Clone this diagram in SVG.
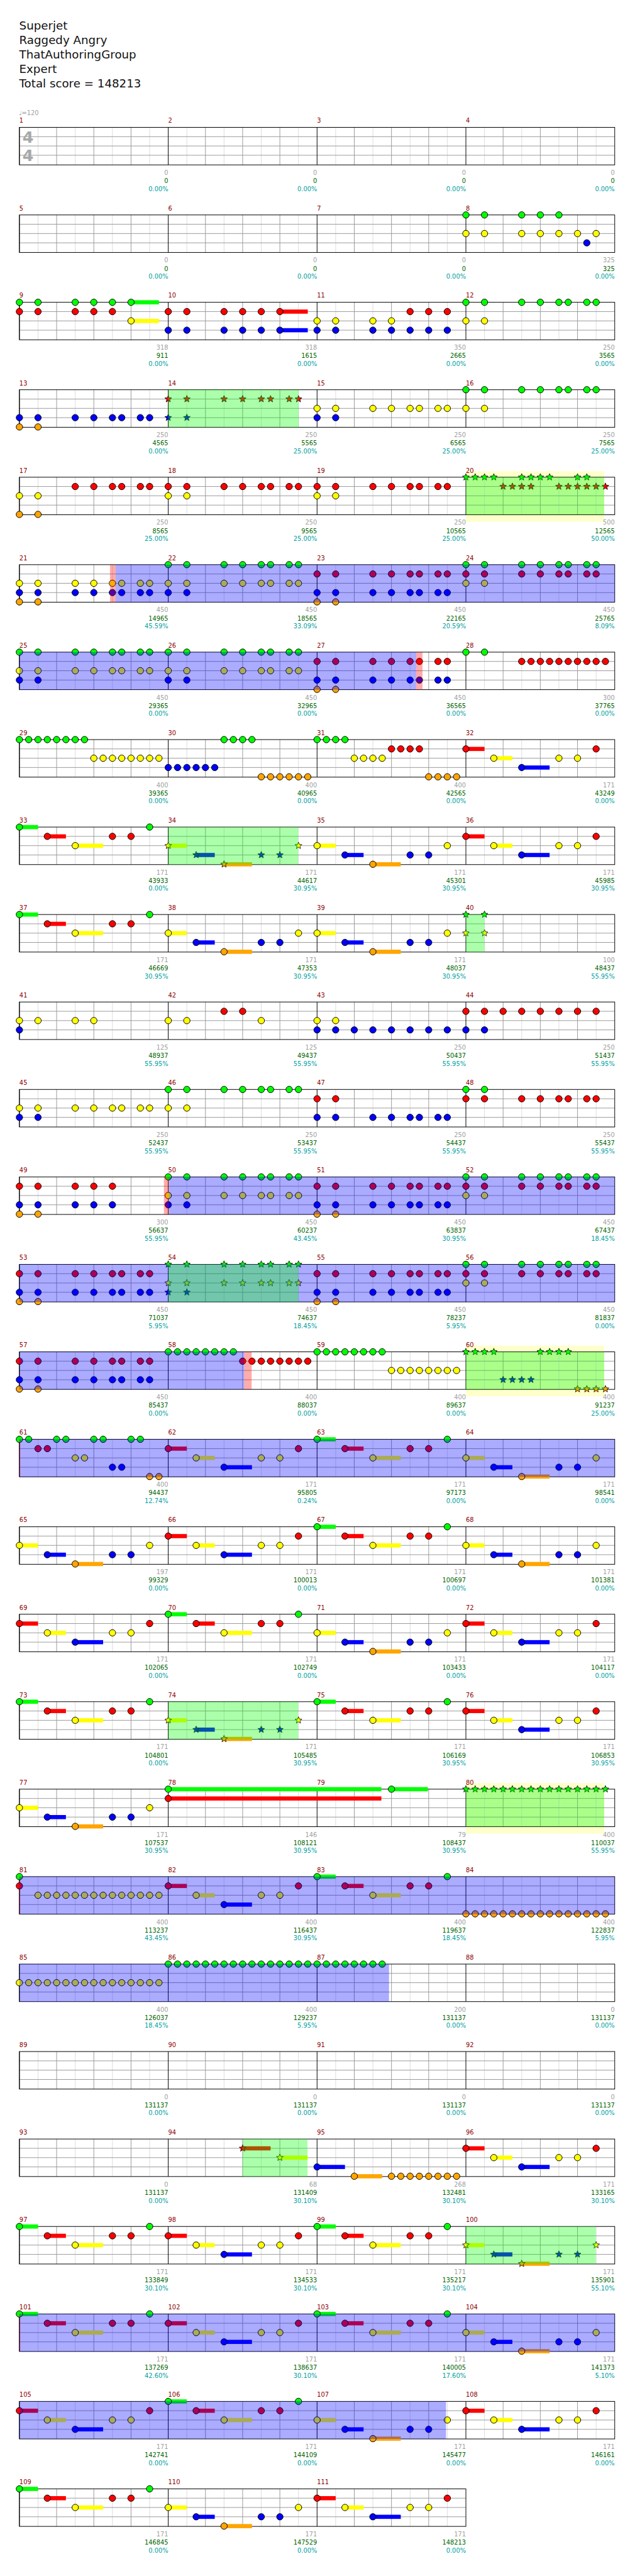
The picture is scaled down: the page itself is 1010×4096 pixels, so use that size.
<svg xmlns="http://www.w3.org/2000/svg" width="1010" height="4096" viewBox="0 0 1010 4096">
<style>
text{font-family:"DejaVu Sans",sans-serif}
.ttl{font-size:18.5px;fill:#111}
.n{font-size:10px;fill:#8b0000}
.lb{font-size:10px;text-anchor:end}
.a{fill:#a0a0a0}.b{fill:#006400}.c{fill:#00a0a0}
.zg{fill:#00ff00}.zr{fill:#ff0000}.zy{fill:#ffff00}.zb{fill:#0000ff}.zo{fill:#ffa500}
.sp{fill:#00ff00;fill-opacity:.33}
.so{fill:#0000ff;fill-opacity:.33}
.rb{fill:#ff0000;fill-opacity:.33}
.py{fill:#ffffcc}
</style>
<defs>
<g id="M">
<path d="M30 0V60.5M90 0V60.5M150 0V60.5M210 0V60.5" stroke="#dcdcdc" fill="none"/>
<path d="M0 15H240M0 30H240M0 45H240M60 0V60.5M120 0V60.5M180 0V60.5" stroke="#9a9a9a" fill="none"/>
<path d="M0 0V60.5" stroke="#000" fill="none"/>
</g>
<g id="S4"><use href="#M"/><use href="#M" x="240"/><use href="#M" x="480"/><use href="#M" x="720"/><rect width="960" height="60.5" fill="none" stroke="#000"/></g>
<g id="S3"><use href="#M"/><use href="#M" x="240"/><use href="#M" x="480"/><rect width="720" height="60.5" fill="none" stroke="#000"/></g>
<circle id="G" r="5.2" cy="0" fill="#00ff00" stroke="#000"/>
<circle id="R" r="5.2" cy="15" fill="#ff0000" stroke="#000"/>
<circle id="Y" r="5.2" cy="30" fill="#ffff00" stroke="#000"/>
<circle id="B" r="5.2" cy="45" fill="#0000ff" stroke="#000"/>
<circle id="O" r="5.2" cy="60" fill="#ffa500" stroke="#000"/>
<path id="st" d="M0-5.8L1.5-2.1L5.5-1.8L2.4.8L3.4 4.7L0 2.5L-3.4 4.7L-2.4.8L-5.5-1.8L-1.5-2.1Z" stroke="#000" stroke-width=".8"/>
<use id="sG" href="#st" y="0" fill="#00ff00"/>
<use id="sR" href="#st" y="15" fill="#ff0000"/>
<use id="sY" href="#st" y="30" fill="#ffff00"/>
<use id="sB" href="#st" y="45" fill="#0000ff"/>
<use id="sO" href="#st" y="60" fill="#ffa500"/>
<g id="pA"><rect class="zr" x="0" y="11.7" width="30" height="6.7"/><rect class="zy" x="45" y="26.7" width="30" height="6.7"/><rect class="zb" x="90" y="41.7" width="45" height="6.7"/><use href="#R"/><use href="#Y" x="45"/><use href="#B" x="90"/><use href="#Y" x="150"/><use href="#Y" x="180"/><use href="#R" x="210"/></g>
<g id="pB"><rect class="zg" x="0" y="-3.3" width="30" height="6.7"/><rect class="zr" x="45" y="11.7" width="30" height="6.7"/><rect class="zy" x="90" y="26.7" width="45" height="6.7"/><use href="#G"/><use href="#R" x="45"/><use href="#Y" x="90"/><use href="#R" x="150"/><use href="#R" x="180"/><use href="#G" x="210"/></g>
<g id="pC"><rect class="zy" x="0" y="26.7" width="30" height="6.7"/><rect class="zb" x="45" y="41.7" width="30" height="6.7"/><rect class="zo" x="90" y="56.7" width="45" height="6.7"/><use href="#Y"/><use href="#B" x="45"/><use href="#O" x="90"/><use href="#B" x="150"/><use href="#B" x="180"/><use href="#Y" x="210"/></g>
<g id="pCs"><rect class="zy" x="0" y="26.7" width="30" height="6.7"/><rect class="zb" x="45" y="41.7" width="30" height="6.7"/><rect class="zo" x="90" y="56.7" width="45" height="6.7"/><use href="#sY"/><use href="#sB" x="45"/><use href="#sO" x="90"/><use href="#sB" x="150"/><use href="#sB" x="180"/><use href="#sY" x="210"/><rect class="sp" x="0" y="0" width="209.5" height="60.5"/></g>
</defs>
<rect width="1010" height="4096" fill="#fff"/>
<g transform="scale(0.98633)">
<g id="title">
<text class="ttl" x="31" y="48">Superjet</text>
<text class="ttl" x="31" y="71.2">Raggedy Angry</text>
<text class="ttl" x="31" y="94.4">ThatAuthoringGroup</text>
<text class="ttl" x="31" y="117.6">Expert</text>
<text class="ttl" x="31" y="140.7">Total score = 148213</text>
</g>

<g id="row1" transform="translate(31.3,205.3)">
<use href="#S4"/>
<text x="-1" y="-20" style="font-size:10px;fill:#a0a0a0">♩=120</text>
<text x="5" y="24.6" style="font-size:25.7px;font-weight:bold;fill:#a8a8a8">4</text>
<text x="5" y="54.6" style="font-size:25.7px;font-weight:bold;fill:#a8a8a8">4</text>
<text class="n" x="0" y="-7.3">1</text><text class="n" x="240" y="-7.3">2</text><text class="n" x="480" y="-7.3">3</text><text class="n" x="720" y="-7.3">4</text>
<g class="lb">
<text class="a" x="240" y="76.7">0</text><text class="b" x="240" y="90">0</text><text class="c" x="240" y="102.8">0.00%</text>
<text class="a" x="480" y="76.7">0</text><text class="b" x="480" y="90">0</text><text class="c" x="480" y="102.8">0.00%</text>
<text class="a" x="720" y="76.7">0</text><text class="b" x="720" y="90">0</text><text class="c" x="720" y="102.8">0.00%</text>
<text class="a" x="960" y="76.7">0</text><text class="b" x="960" y="90">0</text><text class="c" x="960" y="102.8">0.00%</text>
</g>
</g>

<g id="row2" transform="translate(31.3,346.5)">
<use href="#S4"/>
<text class="n" x="0" y="-7.3">5</text><text class="n" x="240" y="-7.3">6</text><text class="n" x="480" y="-7.3">7</text><text class="n" x="720" y="-7.3">8</text>
<use href="#G" x="720"/><use href="#G" x="750"/><use href="#G" x="810"/><use href="#G" x="840"/><use href="#G" x="870"/>
<use href="#Y" x="720"/><use href="#Y" x="750"/><use href="#Y" x="810"/><use href="#Y" x="840"/><use href="#Y" x="870"/><use href="#Y" x="900"/><use href="#Y" x="930"/>
<use href="#B" x="915"/>
<g class="lb">
<text class="a" x="240" y="76.7">0</text><text class="b" x="240" y="90">0</text><text class="c" x="240" y="102.8">0.00%</text>
<text class="a" x="480" y="76.7">0</text><text class="b" x="480" y="90">0</text><text class="c" x="480" y="102.8">0.00%</text>
<text class="a" x="720" y="76.7">0</text><text class="b" x="720" y="90">0</text><text class="c" x="720" y="102.8">0.00%</text>
<text class="a" x="960" y="76.7">325</text><text class="b" x="960" y="90">325</text><text class="c" x="960" y="102.8">0.00%</text>
</g>
</g>

<g id="row3" transform="translate(31.3,487.3)">
<use href="#S4"/>
<text class="n" x="0" y="-7.3">9</text><text class="n" x="240" y="-7.3">10</text><text class="n" x="480" y="-7.3">11</text><text class="n" x="720" y="-7.3">12</text>
<rect class="zg" x="180" y="-3.3" width="45" height="6.7"/><rect class="zy" x="180" y="26.7" width="45" height="6.7"/>
<rect class="zr" x="420" y="11.7" width="45" height="6.7"/><rect class="zb" x="420" y="41.7" width="45" height="6.7"/>
<use href="#G" x="0"/><use href="#G" x="30"/><use href="#G" x="90"/><use href="#G" x="120"/><use href="#G" x="150"/><use href="#G" x="180"/>
<use href="#G" x="720"/><use href="#G" x="750"/><use href="#G" x="810"/><use href="#G" x="840"/><use href="#G" x="870"/><use href="#G" x="885"/><use href="#G" x="915"/><use href="#G" x="930"/>
<use href="#R" x="0"/><use href="#R" x="30"/><use href="#R" x="90"/><use href="#R" x="120"/><use href="#R" x="150"/>
<use href="#R" x="240"/><use href="#R" x="270"/><use href="#R" x="330"/><use href="#R" x="360"/><use href="#R" x="390"/><use href="#R" x="420"/>
<use href="#R" x="630"/><use href="#R" x="660"/><use href="#R" x="690"/>
<use href="#Y" x="180"/><use href="#Y" x="480"/><use href="#Y" x="510"/><use href="#Y" x="570"/><use href="#Y" x="600"/><use href="#Y" x="720"/><use href="#Y" x="750"/>
<use href="#B" x="240"/><use href="#B" x="270"/><use href="#B" x="330"/><use href="#B" x="360"/><use href="#B" x="390"/><use href="#B" x="420"/>
<use href="#B" x="480"/><use href="#B" x="510"/><use href="#B" x="570"/><use href="#B" x="600"/><use href="#B" x="630"/><use href="#B" x="660"/><use href="#B" x="690"/>
<g class="lb">
<text class="a" x="240" y="76.7">318</text><text class="b" x="240" y="90">911</text><text class="c" x="240" y="102.8">0.00%</text>
<text class="a" x="480" y="76.7">318</text><text class="b" x="480" y="90">1615</text><text class="c" x="480" y="102.8">0.00%</text>
<text class="a" x="720" y="76.7">350</text><text class="b" x="720" y="90">2665</text><text class="c" x="720" y="102.8">0.00%</text>
<text class="a" x="960" y="76.7">250</text><text class="b" x="960" y="90">3565</text><text class="c" x="960" y="102.8">0.00%</text>
</g>
</g>

<g id="row4" transform="translate(31.3,628.3)">
<use href="#S4"/>
<text class="n" x="0" y="-7.3">13</text><text class="n" x="240" y="-7.3">14</text><text class="n" x="480" y="-7.3">15</text><text class="n" x="720" y="-7.3">16</text>
<use href="#B" x="0"/><use href="#B" x="30"/><use href="#B" x="90"/><use href="#B" x="120"/><use href="#B" x="150"/><use href="#B" x="165"/><use href="#B" x="195"/><use href="#B" x="210"/>
<use href="#O" x="0"/><use href="#O" x="30"/>
<use href="#sR" x="240"/><use href="#sR" x="270"/><use href="#sR" x="330"/><use href="#sR" x="360"/><use href="#sR" x="390"/><use href="#sR" x="405"/><use href="#sR" x="435"/><use href="#sR" x="450"/>
<use href="#sB" x="240"/><use href="#sB" x="270"/>
<use href="#Y" x="480"/><use href="#B" x="480"/><use href="#Y" x="510"/><use href="#B" x="510"/>
<use href="#Y" x="570"/><use href="#Y" x="600"/><use href="#Y" x="630"/><use href="#Y" x="645"/><use href="#Y" x="675"/><use href="#Y" x="690"/>
<use href="#G" x="720"/><use href="#G" x="750"/><use href="#G" x="810"/><use href="#G" x="840"/><use href="#G" x="870"/><use href="#G" x="885"/><use href="#G" x="915"/><use href="#G" x="930"/>
<use href="#Y" x="720"/><use href="#Y" x="750"/>
<rect class="sp" x="240" y="0" width="210.4" height="60.5"/>
<g class="lb">
<text class="a" x="240" y="76.7">250</text><text class="b" x="240" y="90">4565</text><text class="c" x="240" y="102.8">0.00%</text>
<text class="a" x="480" y="76.7">250</text><text class="b" x="480" y="90">5565</text><text class="c" x="480" y="102.8">25.00%</text>
<text class="a" x="720" y="76.7">250</text><text class="b" x="720" y="90">6565</text><text class="c" x="720" y="102.8">25.00%</text>
<text class="a" x="960" y="76.7">250</text><text class="b" x="960" y="90">7565</text><text class="c" x="960" y="102.8">25.00%</text>
</g>
</g>

<g id="row5" transform="translate(31.3,769.3)">
<rect class="py" x="720" y="-10" width="223" height="81.7"/>
<use href="#S4"/>
<text class="n" x="0" y="-7.3">17</text><text class="n" x="240" y="-7.3">18</text><text class="n" x="480" y="-7.3">19</text><text class="n" x="720" y="-7.3">20</text>
<use href="#Y" x="0"/><use href="#Y" x="30"/><use href="#O" x="0"/><use href="#O" x="30"/>
<use href="#R" x="90"/><use href="#R" x="120"/><use href="#R" x="150"/><use href="#R" x="165"/><use href="#R" x="195"/><use href="#R" x="210"/>
<use href="#R" x="240"/><use href="#R" x="270"/><use href="#R" x="330"/><use href="#R" x="360"/><use href="#R" x="390"/><use href="#R" x="405"/><use href="#R" x="435"/><use href="#R" x="450"/>
<use href="#Y" x="240"/><use href="#Y" x="270"/>
<use href="#R" x="480"/><use href="#R" x="510"/><use href="#R" x="570"/><use href="#R" x="600"/><use href="#R" x="630"/><use href="#R" x="645"/><use href="#R" x="675"/><use href="#R" x="690"/>
<use href="#Y" x="480"/><use href="#Y" x="510"/>
<use href="#sG" x="720"/><use href="#sG" x="735"/><use href="#sG" x="750"/><use href="#sG" x="765"/><use href="#sG" x="810"/><use href="#sG" x="825"/><use href="#sG" x="840"/><use href="#sG" x="855"/><use href="#sG" x="900"/><use href="#sG" x="915"/>
<use href="#sR" x="780"/><use href="#sR" x="795"/><use href="#sR" x="810"/><use href="#sR" x="825"/><use href="#sR" x="870"/><use href="#sR" x="885"/><use href="#sR" x="900"/><use href="#sR" x="915"/><use href="#sR" x="930"/><use href="#sR" x="945"/>
<rect class="sp" x="720" y="0" width="223" height="60.5"/>
<g class="lb">
<text class="a" x="240" y="76.7">250</text><text class="b" x="240" y="90">8565</text><text class="c" x="240" y="102.8">25.00%</text>
<text class="a" x="480" y="76.7">250</text><text class="b" x="480" y="90">9565</text><text class="c" x="480" y="102.8">25.00%</text>
<text class="a" x="720" y="76.7">250</text><text class="b" x="720" y="90">10565</text><text class="c" x="720" y="102.8">25.00%</text>
<text class="a" x="960" y="76.7">500</text><text class="b" x="960" y="90">12565</text><text class="c" x="960" y="102.8">50.00%</text>
</g>
</g>

<g id="row6" transform="translate(31.3,910.3)">
<use href="#S4"/>
<text class="n" x="0" y="-7.3">21</text><text class="n" x="240" y="-7.3">22</text><text class="n" x="480" y="-7.3">23</text><text class="n" x="720" y="-7.3">24</text>
<use href="#Y" x="0"/><use href="#Y" x="30"/><use href="#Y" x="90"/><use href="#Y" x="120"/><use href="#Y" x="150"/><use href="#Y" x="165"/><use href="#Y" x="195"/><use href="#Y" x="210"/><use href="#Y" x="240"/><use href="#Y" x="270"/><use href="#Y" x="330"/><use href="#Y" x="360"/><use href="#Y" x="390"/><use href="#Y" x="405"/><use href="#Y" x="435"/><use href="#Y" x="450"/><use href="#Y" x="720"/><use href="#Y" x="750"/>
<use href="#B" x="0"/><use href="#B" x="30"/><use href="#B" x="90"/><use href="#B" x="120"/><use href="#B" x="150"/><use href="#B" x="165"/><use href="#B" x="195"/><use href="#B" x="210"/><use href="#B" x="240"/><use href="#B" x="270"/><use href="#B" x="480"/><use href="#B" x="510"/><use href="#B" x="570"/><use href="#B" x="600"/><use href="#B" x="630"/><use href="#B" x="645"/><use href="#B" x="675"/><use href="#B" x="690"/>
<use href="#O" x="0"/><use href="#O" x="30"/><use href="#O" x="480"/><use href="#O" x="510"/>
<use href="#G" x="240"/><use href="#G" x="270"/><use href="#G" x="330"/><use href="#G" x="360"/><use href="#G" x="390"/><use href="#G" x="405"/><use href="#G" x="435"/><use href="#G" x="450"/><use href="#G" x="720"/><use href="#G" x="750"/><use href="#G" x="810"/><use href="#G" x="840"/><use href="#G" x="870"/><use href="#G" x="885"/><use href="#G" x="915"/><use href="#G" x="930"/>
<use href="#R" x="480"/><use href="#R" x="510"/><use href="#R" x="570"/><use href="#R" x="600"/><use href="#R" x="630"/><use href="#R" x="645"/><use href="#R" x="675"/><use href="#R" x="690"/><use href="#R" x="720"/><use href="#R" x="750"/><use href="#R" x="810"/><use href="#R" x="840"/><use href="#R" x="870"/><use href="#R" x="885"/><use href="#R" x="915"/><use href="#R" x="930"/>
<rect class="rb" x="146" y="0" width="9" height="60.5"/>
<rect class="so" x="155" y="0" width="805" height="60.5"/>
<g class="lb">
<text class="a" x="240" y="76.7">450</text><text class="b" x="240" y="90">14965</text><text class="c" x="240" y="102.8">45.59%</text>
<text class="a" x="480" y="76.7">450</text><text class="b" x="480" y="90">18565</text><text class="c" x="480" y="102.8">33.09%</text>
<text class="a" x="720" y="76.7">450</text><text class="b" x="720" y="90">22165</text><text class="c" x="720" y="102.8">20.59%</text>
<text class="a" x="960" y="76.7">450</text><text class="b" x="960" y="90">25765</text><text class="c" x="960" y="102.8">8.09%</text>
</g>
</g>

<g id="row7" transform="translate(31.3,1051.3)">
<use href="#S4"/>
<text class="n" x="0" y="-7.3">25</text><text class="n" x="240" y="-7.3">26</text><text class="n" x="480" y="-7.3">27</text><text class="n" x="720" y="-7.3">28</text>
<use href="#G" x="0"/><use href="#G" x="30"/><use href="#G" x="90"/><use href="#G" x="120"/><use href="#G" x="150"/><use href="#G" x="165"/><use href="#G" x="195"/><use href="#G" x="210"/>
<use href="#Y" x="0"/><use href="#Y" x="30"/><use href="#Y" x="90"/><use href="#Y" x="120"/><use href="#Y" x="150"/><use href="#Y" x="165"/><use href="#Y" x="195"/><use href="#Y" x="210"/>
<use href="#B" x="0"/><use href="#B" x="30"/>
<use href="#G" x="240"/><use href="#G" x="270"/><use href="#G" x="330"/><use href="#G" x="360"/><use href="#G" x="390"/><use href="#G" x="405"/><use href="#G" x="435"/><use href="#G" x="450"/>
<use href="#Y" x="240"/><use href="#Y" x="270"/><use href="#Y" x="330"/><use href="#Y" x="360"/><use href="#Y" x="390"/><use href="#Y" x="405"/><use href="#Y" x="435"/><use href="#Y" x="450"/>
<use href="#B" x="240"/><use href="#B" x="270"/>
<use href="#R" x="480"/><use href="#R" x="510"/><use href="#R" x="570"/><use href="#R" x="600"/><use href="#R" x="630"/><use href="#R" x="645"/><use href="#R" x="675"/><use href="#R" x="690"/>
<use href="#B" x="480"/><use href="#B" x="510"/><use href="#B" x="570"/><use href="#B" x="600"/><use href="#B" x="630"/><use href="#B" x="645"/><use href="#B" x="675"/><use href="#B" x="690"/>
<use href="#O" x="480"/><use href="#O" x="510"/>
<use href="#G" x="720"/><use href="#G" x="750"/>
<use href="#R" x="810"/><use href="#R" x="825"/><use href="#R" x="840"/><use href="#R" x="855"/><use href="#R" x="870"/><use href="#R" x="885"/><use href="#R" x="900"/><use href="#R" x="915"/><use href="#R" x="930"/><use href="#R" x="945"/>
<rect class="so" x="0" y="0" width="640" height="60.5"/>
<rect class="rb" x="640" y="0" width="10" height="60.5"/>
<g class="lb">
<text class="a" x="240" y="76.7">450</text><text class="b" x="240" y="90">29365</text><text class="c" x="240" y="102.8">0.00%</text>
<text class="a" x="480" y="76.7">450</text><text class="b" x="480" y="90">32965</text><text class="c" x="480" y="102.8">0.00%</text>
<text class="a" x="720" y="76.7">450</text><text class="b" x="720" y="90">36565</text><text class="c" x="720" y="102.8">0.00%</text>
<text class="a" x="960" y="76.7">300</text><text class="b" x="960" y="90">37765</text><text class="c" x="960" y="102.8">0.00%</text>
</g>
</g>

<g id="row8" transform="translate(31.3,1192.3)">
<use href="#S4"/>
<text class="n" x="0" y="-7.3">29</text><text class="n" x="240" y="-7.3">30</text><text class="n" x="480" y="-7.3">31</text><text class="n" x="720" y="-7.3">32</text>
<use href="#G" x="0"/><use href="#G" x="15"/><use href="#G" x="30"/><use href="#G" x="45"/><use href="#G" x="60"/><use href="#G" x="75"/><use href="#G" x="90"/><use href="#G" x="105"/>
<use href="#Y" x="120"/><use href="#Y" x="135"/><use href="#Y" x="150"/><use href="#Y" x="165"/><use href="#Y" x="180"/><use href="#Y" x="195"/><use href="#Y" x="210"/><use href="#Y" x="225"/>
<use href="#B" x="240"/><use href="#B" x="255"/><use href="#B" x="270"/><use href="#B" x="285"/><use href="#B" x="300"/><use href="#B" x="315"/>
<use href="#G" x="330"/><use href="#G" x="345"/><use href="#G" x="360"/><use href="#G" x="375"/>
<use href="#O" x="390"/><use href="#O" x="405"/><use href="#O" x="420"/><use href="#O" x="435"/><use href="#O" x="450"/><use href="#O" x="465"/>
<use href="#G" x="480"/><use href="#G" x="495"/><use href="#G" x="510"/><use href="#G" x="525"/>
<use href="#Y" x="540"/><use href="#Y" x="555"/><use href="#Y" x="570"/><use href="#Y" x="585"/>
<use href="#R" x="600"/><use href="#R" x="615"/><use href="#R" x="630"/><use href="#R" x="645"/>
<use href="#O" x="660"/><use href="#O" x="675"/><use href="#O" x="690"/><use href="#O" x="705"/>
<use href="#pA" x="720"/>
<g class="lb">
<text class="a" x="240" y="76.7">400</text><text class="b" x="240" y="90">39365</text><text class="c" x="240" y="102.8">0.00%</text>
<text class="a" x="480" y="76.7">400</text><text class="b" x="480" y="90">40965</text><text class="c" x="480" y="102.8">0.00%</text>
<text class="a" x="720" y="76.7">400</text><text class="b" x="720" y="90">42565</text><text class="c" x="720" y="102.8">0.00%</text>
<text class="a" x="960" y="76.7">171</text><text class="b" x="960" y="90">43249</text><text class="c" x="960" y="102.8">0.00%</text>
</g>
</g>

<g id="row9" transform="translate(31.3,1333.3)">
<use href="#S4"/>
<text class="n" x="0" y="-7.3">33</text><text class="n" x="240" y="-7.3">34</text><text class="n" x="480" y="-7.3">35</text><text class="n" x="720" y="-7.3">36</text>
<use href="#pB" x="0"/><use href="#pCs" x="240"/><use href="#pC" x="480"/><use href="#pA" x="720"/>
<g class="lb">
<text class="a" x="240" y="76.7">171</text><text class="b" x="240" y="90">43933</text><text class="c" x="240" y="102.8">0.00%</text>
<text class="a" x="480" y="76.7">171</text><text class="b" x="480" y="90">44617</text><text class="c" x="480" y="102.8">30.95%</text>
<text class="a" x="720" y="76.7">171</text><text class="b" x="720" y="90">45301</text><text class="c" x="720" y="102.8">30.95%</text>
<text class="a" x="960" y="76.7">171</text><text class="b" x="960" y="90">45985</text><text class="c" x="960" y="102.8">30.95%</text>
</g>
</g>

<g id="row10" transform="translate(31.3,1474.3)">
<use href="#S4"/>
<text class="n" x="0" y="-7.3">37</text><text class="n" x="240" y="-7.3">38</text><text class="n" x="480" y="-7.3">39</text><text class="n" x="720" y="-7.3">40</text>
<use href="#pB" x="0"/><use href="#pC" x="240"/><use href="#pC" x="480"/>
<use href="#sG" x="720"/><use href="#sY" x="720"/><use href="#sG" x="750"/><use href="#sY" x="750"/>
<rect class="sp" x="720" y="0" width="30" height="60.5"/>
<g class="lb">
<text class="a" x="240" y="76.7">171</text><text class="b" x="240" y="90">46669</text><text class="c" x="240" y="102.8">30.95%</text>
<text class="a" x="480" y="76.7">171</text><text class="b" x="480" y="90">47353</text><text class="c" x="480" y="102.8">30.95%</text>
<text class="a" x="720" y="76.7">171</text><text class="b" x="720" y="90">48037</text><text class="c" x="720" y="102.8">30.95%</text>
<text class="a" x="960" y="76.7">100</text><text class="b" x="960" y="90">48437</text><text class="c" x="960" y="102.8">55.95%</text>
</g>
</g>

<g id="row11" transform="translate(31.3,1615.3)">
<use href="#S4"/>
<text class="n" x="0" y="-7.3">41</text><text class="n" x="240" y="-7.3">42</text><text class="n" x="480" y="-7.3">43</text><text class="n" x="720" y="-7.3">44</text>
<use href="#Y" x="0"/><use href="#B" x="0"/><use href="#Y" x="30"/><use href="#Y" x="90"/><use href="#Y" x="120"/>
<use href="#Y" x="240"/><use href="#Y" x="270"/><use href="#R" x="330"/><use href="#R" x="360"/><use href="#Y" x="390"/>
<use href="#B" x="480"/><use href="#B" x="510"/><use href="#B" x="540"/><use href="#B" x="570"/><use href="#B" x="600"/><use href="#B" x="630"/><use href="#B" x="660"/><use href="#B" x="690"/><use href="#Y" x="480"/><use href="#Y" x="510"/>
<use href="#R" x="720"/><use href="#R" x="750"/><use href="#R" x="780"/><use href="#R" x="810"/><use href="#R" x="840"/><use href="#R" x="870"/><use href="#R" x="900"/><use href="#R" x="930"/><use href="#B" x="720"/><use href="#B" x="750"/>
<g class="lb">
<text class="a" x="240" y="76.7">125</text><text class="b" x="240" y="90">48937</text><text class="c" x="240" y="102.8">55.95%</text>
<text class="a" x="480" y="76.7">125</text><text class="b" x="480" y="90">49437</text><text class="c" x="480" y="102.8">55.95%</text>
<text class="a" x="720" y="76.7">250</text><text class="b" x="720" y="90">50437</text><text class="c" x="720" y="102.8">55.95%</text>
<text class="a" x="960" y="76.7">250</text><text class="b" x="960" y="90">51437</text><text class="c" x="960" y="102.8">55.95%</text>
</g>
</g>

<g id="row12" transform="translate(31.3,1756.3)">
<use href="#S4"/>
<text class="n" x="0" y="-7.3">45</text><text class="n" x="240" y="-7.3">46</text><text class="n" x="480" y="-7.3">47</text><text class="n" x="720" y="-7.3">48</text>
<use href="#Y" x="0"/><use href="#B" x="0"/><use href="#Y" x="30"/><use href="#B" x="30"/><use href="#Y" x="90"/><use href="#Y" x="120"/><use href="#Y" x="150"/><use href="#Y" x="165"/><use href="#Y" x="195"/><use href="#Y" x="210"/>
<use href="#G" x="240"/><use href="#G" x="270"/><use href="#G" x="330"/><use href="#G" x="360"/><use href="#G" x="390"/><use href="#G" x="405"/><use href="#G" x="435"/><use href="#G" x="450"/><use href="#Y" x="240"/><use href="#Y" x="270"/>
<use href="#B" x="480"/><use href="#B" x="510"/><use href="#B" x="570"/><use href="#B" x="600"/><use href="#B" x="630"/><use href="#B" x="645"/><use href="#B" x="675"/><use href="#B" x="690"/><use href="#R" x="480"/><use href="#R" x="510"/>
<use href="#R" x="720"/><use href="#R" x="750"/><use href="#R" x="810"/><use href="#R" x="840"/><use href="#R" x="870"/><use href="#R" x="885"/><use href="#R" x="915"/><use href="#R" x="930"/><use href="#G" x="720"/><use href="#G" x="750"/>
<g class="lb">
<text class="a" x="240" y="76.7">250</text><text class="b" x="240" y="90">52437</text><text class="c" x="240" y="102.8">55.95%</text>
<text class="a" x="480" y="76.7">250</text><text class="b" x="480" y="90">53437</text><text class="c" x="480" y="102.8">55.95%</text>
<text class="a" x="720" y="76.7">250</text><text class="b" x="720" y="90">54437</text><text class="c" x="720" y="102.8">55.95%</text>
<text class="a" x="960" y="76.7">250</text><text class="b" x="960" y="90">55437</text><text class="c" x="960" y="102.8">55.95%</text>
</g>
</g>

<g id="row13" transform="translate(31.3,1897.3)">
<use href="#S4"/>
<text class="n" x="0" y="-7.3">49</text><text class="n" x="240" y="-7.3">50</text><text class="n" x="480" y="-7.3">51</text><text class="n" x="720" y="-7.3">52</text>
<use href="#R" x="0"/><use href="#R" x="30"/><use href="#R" x="90"/><use href="#R" x="120"/><use href="#R" x="150"/>
<use href="#B" x="0"/><use href="#B" x="30"/><use href="#B" x="90"/><use href="#B" x="120"/><use href="#B" x="150"/><use href="#O" x="0"/><use href="#O" x="30"/>
<use href="#G" x="240"/><use href="#G" x="270"/><use href="#G" x="330"/><use href="#G" x="360"/><use href="#G" x="390"/><use href="#G" x="405"/><use href="#G" x="435"/><use href="#G" x="450"/>
<use href="#Y" x="240"/><use href="#Y" x="270"/><use href="#Y" x="330"/><use href="#Y" x="360"/><use href="#Y" x="390"/><use href="#Y" x="405"/><use href="#Y" x="435"/><use href="#Y" x="450"/><use href="#B" x="240"/><use href="#B" x="270"/>
<use href="#R" x="480"/><use href="#R" x="510"/><use href="#R" x="570"/><use href="#R" x="600"/><use href="#R" x="630"/><use href="#R" x="645"/><use href="#R" x="675"/><use href="#R" x="690"/>
<use href="#B" x="480"/><use href="#B" x="510"/><use href="#B" x="570"/><use href="#B" x="600"/><use href="#B" x="630"/><use href="#B" x="645"/><use href="#B" x="675"/><use href="#B" x="690"/><use href="#O" x="480"/><use href="#O" x="510"/>
<use href="#G" x="720"/><use href="#G" x="750"/><use href="#G" x="810"/><use href="#G" x="840"/><use href="#G" x="870"/><use href="#G" x="885"/><use href="#G" x="915"/><use href="#G" x="930"/>
<use href="#R" x="720"/><use href="#R" x="750"/><use href="#R" x="810"/><use href="#R" x="840"/><use href="#R" x="870"/><use href="#R" x="885"/><use href="#R" x="915"/><use href="#R" x="930"/><use href="#Y" x="720"/><use href="#Y" x="750"/>
<rect class="rb" x="233" y="0" width="8" height="60.5"/>
<rect class="so" x="241" y="0" width="719" height="60.5"/>
<g class="lb">
<text class="a" x="240" y="76.7">300</text><text class="b" x="240" y="90">56637</text><text class="c" x="240" y="102.8">55.95%</text>
<text class="a" x="480" y="76.7">450</text><text class="b" x="480" y="90">60237</text><text class="c" x="480" y="102.8">43.45%</text>
<text class="a" x="720" y="76.7">450</text><text class="b" x="720" y="90">63837</text><text class="c" x="720" y="102.8">30.95%</text>
<text class="a" x="960" y="76.7">450</text><text class="b" x="960" y="90">67437</text><text class="c" x="960" y="102.8">18.45%</text>
</g>
</g>

<g id="row14" transform="translate(31.3,2038.3)">
<use href="#S4"/>
<text class="n" x="0" y="-7.3">53</text><text class="n" x="240" y="-7.3">54</text><text class="n" x="480" y="-7.3">55</text><text class="n" x="720" y="-7.3">56</text>
<use href="#R" x="0"/><use href="#R" x="30"/><use href="#R" x="90"/><use href="#R" x="120"/><use href="#R" x="150"/><use href="#R" x="165"/><use href="#R" x="195"/><use href="#R" x="210"/>
<use href="#B" x="0"/><use href="#B" x="30"/><use href="#B" x="90"/><use href="#B" x="120"/><use href="#B" x="150"/><use href="#B" x="165"/><use href="#B" x="195"/><use href="#B" x="210"/><use href="#O" x="0"/><use href="#O" x="30"/>
<use href="#sG" x="240"/><use href="#sG" x="270"/><use href="#sG" x="330"/><use href="#sG" x="360"/><use href="#sG" x="390"/><use href="#sG" x="405"/><use href="#sG" x="435"/><use href="#sG" x="450"/>
<use href="#sY" x="240"/><use href="#sY" x="270"/><use href="#sY" x="330"/><use href="#sY" x="360"/><use href="#sY" x="390"/><use href="#sY" x="405"/><use href="#sY" x="435"/><use href="#sY" x="450"/><use href="#sB" x="240"/><use href="#sB" x="270"/>
<use href="#R" x="480"/><use href="#R" x="510"/><use href="#R" x="570"/><use href="#R" x="600"/><use href="#R" x="630"/><use href="#R" x="645"/><use href="#R" x="675"/><use href="#R" x="690"/>
<use href="#B" x="480"/><use href="#B" x="510"/><use href="#B" x="570"/><use href="#B" x="600"/><use href="#B" x="630"/><use href="#B" x="645"/><use href="#B" x="675"/><use href="#B" x="690"/><use href="#O" x="480"/><use href="#O" x="510"/>
<use href="#G" x="720"/><use href="#G" x="750"/><use href="#G" x="810"/><use href="#G" x="840"/><use href="#G" x="870"/><use href="#G" x="885"/><use href="#G" x="915"/><use href="#G" x="930"/>
<use href="#R" x="720"/><use href="#R" x="750"/><use href="#R" x="810"/><use href="#R" x="840"/><use href="#R" x="870"/><use href="#R" x="885"/><use href="#R" x="915"/><use href="#R" x="930"/><use href="#Y" x="720"/><use href="#Y" x="750"/>
<rect class="so" x="0" y="0" width="960" height="60.5"/>
<rect class="sp" x="240" y="0" width="210" height="60.5"/>
<g class="lb">
<text class="a" x="240" y="76.7">450</text><text class="b" x="240" y="90">71037</text><text class="c" x="240" y="102.8">5.95%</text>
<text class="a" x="480" y="76.7">450</text><text class="b" x="480" y="90">74637</text><text class="c" x="480" y="102.8">18.45%</text>
<text class="a" x="720" y="76.7">450</text><text class="b" x="720" y="90">78237</text><text class="c" x="720" y="102.8">5.95%</text>
<text class="a" x="960" y="76.7">450</text><text class="b" x="960" y="90">81837</text><text class="c" x="960" y="102.8">0.00%</text>
</g>
</g>

<g id="row15" transform="translate(31.3,2179.3)">
<rect class="py" x="720" y="-10" width="223" height="81.7"/>
<use href="#S4"/>
<text class="n" x="0" y="-7.3">57</text><text class="n" x="240" y="-7.3">58</text><text class="n" x="480" y="-7.3">59</text><text class="n" x="720" y="-7.3">60</text>
<use href="#R" x="0"/><use href="#R" x="30"/><use href="#R" x="90"/><use href="#R" x="120"/><use href="#R" x="150"/><use href="#R" x="165"/><use href="#R" x="195"/><use href="#R" x="210"/><use href="#R" x="360"/><use href="#R" x="375"/><use href="#R" x="390"/><use href="#R" x="405"/><use href="#R" x="420"/><use href="#R" x="435"/><use href="#R" x="450"/><use href="#R" x="465"/>
<use href="#B" x="0"/><use href="#B" x="30"/><use href="#B" x="90"/><use href="#B" x="120"/><use href="#B" x="150"/><use href="#B" x="165"/><use href="#B" x="195"/><use href="#B" x="210"/>
<use href="#O" x="0"/><use href="#O" x="30"/>
<use href="#G" x="240"/><use href="#G" x="255"/><use href="#G" x="270"/><use href="#G" x="285"/><use href="#G" x="300"/><use href="#G" x="315"/><use href="#G" x="330"/><use href="#G" x="345"/>
<use href="#G" x="480"/><use href="#G" x="495"/><use href="#G" x="510"/><use href="#G" x="525"/><use href="#G" x="540"/><use href="#G" x="555"/><use href="#G" x="570"/><use href="#G" x="585"/>
<use href="#Y" x="600"/><use href="#Y" x="615"/><use href="#Y" x="630"/><use href="#Y" x="645"/><use href="#Y" x="660"/><use href="#Y" x="675"/><use href="#Y" x="690"/><use href="#Y" x="705"/>
<use href="#sG" x="720"/><use href="#sG" x="735"/><use href="#sG" x="750"/><use href="#sG" x="765"/><use href="#sG" x="840"/><use href="#sG" x="855"/><use href="#sG" x="870"/><use href="#sG" x="885"/>
<use href="#sB" x="780"/><use href="#sB" x="795"/><use href="#sB" x="810"/><use href="#sB" x="825"/>
<use href="#sO" x="900"/><use href="#sO" x="915"/><use href="#sO" x="930"/><use href="#sO" x="945"/>
<rect class="so" x="0" y="0" width="362.7" height="60.5"/>
<rect class="rb" x="362.7" y="0" width="11.8" height="60.5"/>
<rect class="sp" x="720" y="0" width="223" height="60.5"/>
<g class="lb">
<text class="a" x="240" y="76.7">450</text><text class="b" x="240" y="90">85437</text><text class="c" x="240" y="102.8">0.00%</text>
<text class="a" x="480" y="76.7">400</text><text class="b" x="480" y="90">88037</text><text class="c" x="480" y="102.8">0.00%</text>
<text class="a" x="720" y="76.7">400</text><text class="b" x="720" y="90">89637</text><text class="c" x="720" y="102.8">0.00%</text>
<text class="a" x="960" y="76.7">400</text><text class="b" x="960" y="90">91237</text><text class="c" x="960" y="102.8">25.00%</text>
</g>
</g>

<g id="row16" transform="translate(31.3,2320.3)">
<use href="#S4"/>
<text class="n" x="0" y="-7.3">61</text><text class="n" x="240" y="-7.3">62</text><text class="n" x="480" y="-7.3">63</text><text class="n" x="720" y="-7.3">64</text>
<use href="#G" x="0"/><use href="#G" x="15"/><use href="#G" x="60"/><use href="#G" x="75"/><use href="#G" x="120"/><use href="#G" x="135"/><use href="#G" x="180"/><use href="#G" x="195"/>
<use href="#R" x="30"/><use href="#R" x="45"/><use href="#Y" x="90"/><use href="#Y" x="105"/><use href="#B" x="150"/><use href="#B" x="165"/><use href="#O" x="210"/><use href="#O" x="225"/>
<use href="#pA" x="240"/><use href="#pB" x="480"/><use href="#pC" x="720"/>
<rect class="so" x="0" y="0" width="960" height="60.5"/>
<rect class="rb" x="0" y="0" width="1.5" height="60.5"/>
<g class="lb">
<text class="a" x="240" y="76.7">400</text><text class="b" x="240" y="90">94437</text><text class="c" x="240" y="102.8">12.74%</text>
<text class="a" x="480" y="76.7">171</text><text class="b" x="480" y="90">95805</text><text class="c" x="480" y="102.8">0.24%</text>
<text class="a" x="720" y="76.7">171</text><text class="b" x="720" y="90">97173</text><text class="c" x="720" y="102.8">0.00%</text>
<text class="a" x="960" y="76.7">171</text><text class="b" x="960" y="90">98541</text><text class="c" x="960" y="102.8">0.00%</text>
</g>
</g>

<g id="row17" transform="translate(31.3,2461.3)">
<use href="#S4"/>
<text class="n" x="0" y="-7.3">65</text><text class="n" x="240" y="-7.3">66</text><text class="n" x="480" y="-7.3">67</text><text class="n" x="720" y="-7.3">68</text>
<use href="#pC" x="0"/><use href="#pA" x="240"/><use href="#pB" x="480"/><use href="#pC" x="720"/>
<g class="lb">
<text class="a" x="240" y="76.7">197</text><text class="b" x="240" y="90">99329</text><text class="c" x="240" y="102.8">0.00%</text>
<text class="a" x="480" y="76.7">171</text><text class="b" x="480" y="90">100013</text><text class="c" x="480" y="102.8">0.00%</text>
<text class="a" x="720" y="76.7">171</text><text class="b" x="720" y="90">100697</text><text class="c" x="720" y="102.8">0.00%</text>
<text class="a" x="960" y="76.7">171</text><text class="b" x="960" y="90">101381</text><text class="c" x="960" y="102.8">0.00%</text>
</g>
</g>

<g id="row18" transform="translate(31.3,2602.3)">
<use href="#S4"/>
<text class="n" x="0" y="-7.3">69</text><text class="n" x="240" y="-7.3">70</text><text class="n" x="480" y="-7.3">71</text><text class="n" x="720" y="-7.3">72</text>
<use href="#pA" x="0"/><use href="#pB" x="240"/><use href="#pC" x="480"/><use href="#pA" x="720"/>
<g class="lb">
<text class="a" x="240" y="76.7">171</text><text class="b" x="240" y="90">102065</text><text class="c" x="240" y="102.8">0.00%</text>
<text class="a" x="480" y="76.7">171</text><text class="b" x="480" y="90">102749</text><text class="c" x="480" y="102.8">0.00%</text>
<text class="a" x="720" y="76.7">171</text><text class="b" x="720" y="90">103433</text><text class="c" x="720" y="102.8">0.00%</text>
<text class="a" x="960" y="76.7">171</text><text class="b" x="960" y="90">104117</text><text class="c" x="960" y="102.8">0.00%</text>
</g>
</g>

<g id="row19" transform="translate(31.3,2743.3)">
<use href="#S4"/>
<text class="n" x="0" y="-7.3">73</text><text class="n" x="240" y="-7.3">74</text><text class="n" x="480" y="-7.3">75</text><text class="n" x="720" y="-7.3">76</text>
<use href="#pB" x="0"/><use href="#pCs" x="240"/><use href="#pB" x="480"/><use href="#pA" x="720"/>
<g class="lb">
<text class="a" x="240" y="76.7">171</text><text class="b" x="240" y="90">104801</text><text class="c" x="240" y="102.8">0.00%</text>
<text class="a" x="480" y="76.7">171</text><text class="b" x="480" y="90">105485</text><text class="c" x="480" y="102.8">30.95%</text>
<text class="a" x="720" y="76.7">171</text><text class="b" x="720" y="90">106169</text><text class="c" x="720" y="102.8">30.95%</text>
<text class="a" x="960" y="76.7">171</text><text class="b" x="960" y="90">106853</text><text class="c" x="960" y="102.8">30.95%</text>
</g>
</g>

<g id="row20" transform="translate(31.3,2884.3)">
<rect class="py" x="720" y="-10" width="223" height="81.7"/>
<use href="#S4"/>
<text class="n" x="0" y="-7.3">77</text><text class="n" x="240" y="-7.3">78</text><text class="n" x="480" y="-7.3">79</text><text class="n" x="720" y="-7.3">80</text>
<use href="#pC" x="0"/>
<rect class="zg" x="240" y="-3.3" width="343.7" height="6.7"/><rect class="zr" x="240" y="11.7" width="343.7" height="6.7"/>
<rect class="zg" x="600" y="-3.3" width="58.7" height="6.7"/>
<use href="#G" x="240"/><use href="#R" x="240"/><use href="#G" x="600"/>
<use href="#sG" x="720"/><use href="#sG" x="735"/><use href="#sG" x="750"/><use href="#sG" x="765"/><use href="#sG" x="780"/><use href="#sG" x="795"/><use href="#sG" x="810"/><use href="#sG" x="825"/><use href="#sG" x="840"/><use href="#sG" x="855"/><use href="#sG" x="870"/><use href="#sG" x="885"/><use href="#sG" x="900"/><use href="#sG" x="915"/><use href="#sG" x="930"/><use href="#sG" x="945"/>
<rect class="sp" x="720" y="0" width="223" height="60.5"/>
<g class="lb">
<text class="a" x="240" y="76.7">171</text><text class="b" x="240" y="90">107537</text><text class="c" x="240" y="102.8">30.95%</text>
<text class="a" x="480" y="76.7">146</text><text class="b" x="480" y="90">108121</text><text class="c" x="480" y="102.8">30.95%</text>
<text class="a" x="720" y="76.7">79</text><text class="b" x="720" y="90">108437</text><text class="c" x="720" y="102.8">30.95%</text>
<text class="a" x="960" y="76.7">400</text><text class="b" x="960" y="90">110037</text><text class="c" x="960" y="102.8">55.95%</text>
</g>
</g>

<g id="row21" transform="translate(31.3,3025.3)">
<use href="#S4"/>
<text class="n" x="0" y="-7.3">81</text><text class="n" x="240" y="-7.3">82</text><text class="n" x="480" y="-7.3">83</text><text class="n" x="720" y="-7.3">84</text>
<use href="#G" x="0"/><use href="#R" x="0"/>
<use href="#Y" x="30"/><use href="#Y" x="45"/><use href="#Y" x="60"/><use href="#Y" x="75"/><use href="#Y" x="90"/><use href="#Y" x="105"/><use href="#Y" x="120"/><use href="#Y" x="135"/><use href="#Y" x="150"/><use href="#Y" x="165"/><use href="#Y" x="180"/><use href="#Y" x="195"/><use href="#Y" x="210"/><use href="#Y" x="225"/>
<use href="#pA" x="240"/><use href="#pB" x="480"/>
<use href="#O" x="720"/><use href="#O" x="735"/><use href="#O" x="750"/><use href="#O" x="765"/><use href="#O" x="780"/><use href="#O" x="795"/><use href="#O" x="810"/><use href="#O" x="825"/><use href="#O" x="840"/><use href="#O" x="855"/><use href="#O" x="870"/><use href="#O" x="885"/><use href="#O" x="900"/><use href="#O" x="915"/><use href="#O" x="930"/><use href="#O" x="945"/>
<rect class="so" x="0" y="0" width="960" height="60.5"/>
<rect class="rb" x="0" y="0" width="1.5" height="60.5"/>
<g class="lb">
<text class="a" x="240" y="76.7">400</text><text class="b" x="240" y="90">113237</text><text class="c" x="240" y="102.8">43.45%</text>
<text class="a" x="480" y="76.7">400</text><text class="b" x="480" y="90">116437</text><text class="c" x="480" y="102.8">30.95%</text>
<text class="a" x="720" y="76.7">400</text><text class="b" x="720" y="90">119637</text><text class="c" x="720" y="102.8">18.45%</text>
<text class="a" x="960" y="76.7">400</text><text class="b" x="960" y="90">122837</text><text class="c" x="960" y="102.8">5.95%</text>
</g>
</g>

<g id="row22" transform="translate(31.3,3166.3)">
<use href="#S4"/>
<text class="n" x="0" y="-7.3">85</text><text class="n" x="240" y="-7.3">86</text><text class="n" x="480" y="-7.3">87</text><text class="n" x="720" y="-7.3">88</text>
<use href="#Y" x="0"/><use href="#Y" x="15"/><use href="#Y" x="30"/><use href="#Y" x="45"/><use href="#Y" x="60"/><use href="#Y" x="75"/><use href="#Y" x="90"/><use href="#Y" x="105"/><use href="#Y" x="120"/><use href="#Y" x="135"/><use href="#Y" x="150"/><use href="#Y" x="165"/><use href="#Y" x="180"/><use href="#Y" x="195"/><use href="#Y" x="210"/><use href="#Y" x="225"/>
<use href="#G" x="240"/><use href="#G" x="255"/><use href="#G" x="270"/><use href="#G" x="285"/><use href="#G" x="300"/><use href="#G" x="315"/><use href="#G" x="330"/><use href="#G" x="345"/><use href="#G" x="360"/><use href="#G" x="375"/><use href="#G" x="390"/><use href="#G" x="405"/><use href="#G" x="420"/><use href="#G" x="435"/><use href="#G" x="450"/><use href="#G" x="465"/>
<use href="#G" x="480"/><use href="#G" x="495"/><use href="#G" x="510"/><use href="#G" x="525"/><use href="#G" x="540"/><use href="#G" x="555"/><use href="#G" x="570"/><use href="#G" x="585"/>
<rect class="so" x="0" y="0" width="596" height="60.5"/>
<g class="lb">
<text class="a" x="240" y="76.7">400</text><text class="b" x="240" y="90">126037</text><text class="c" x="240" y="102.8">18.45%</text>
<text class="a" x="480" y="76.7">400</text><text class="b" x="480" y="90">129237</text><text class="c" x="480" y="102.8">5.95%</text>
<text class="a" x="720" y="76.7">200</text><text class="b" x="720" y="90">131137</text><text class="c" x="720" y="102.8">0.00%</text>
<text class="a" x="960" y="76.7">0</text><text class="b" x="960" y="90">131137</text><text class="c" x="960" y="102.8">0.00%</text>
</g>
</g>

<g id="row23" transform="translate(31.3,3307.3)">
<use href="#S4"/>
<text class="n" x="0" y="-7.3">89</text><text class="n" x="240" y="-7.3">90</text><text class="n" x="480" y="-7.3">91</text><text class="n" x="720" y="-7.3">92</text>
<g class="lb">
<text class="a" x="240" y="76.7">0</text><text class="b" x="240" y="90">131137</text><text class="c" x="240" y="102.8">0.00%</text>
<text class="a" x="480" y="76.7">0</text><text class="b" x="480" y="90">131137</text><text class="c" x="480" y="102.8">0.00%</text>
<text class="a" x="720" y="76.7">0</text><text class="b" x="720" y="90">131137</text><text class="c" x="720" y="102.8">0.00%</text>
<text class="a" x="960" y="76.7">0</text><text class="b" x="960" y="90">131137</text><text class="c" x="960" y="102.8">0.00%</text>
</g>
</g>

<g id="row24" transform="translate(31.3,3448.3)">
<use href="#S4"/>
<text class="n" x="0" y="-7.3">93</text><text class="n" x="240" y="-7.3">94</text><text class="n" x="480" y="-7.3">95</text><text class="n" x="720" y="-7.3">96</text>
<rect class="zr" x="360" y="11.7" width="45" height="6.7"/><rect class="zy" x="420" y="26.7" width="45" height="6.7"/>
<rect class="zb" x="480" y="41.7" width="45" height="6.7"/><rect class="zo" x="540" y="56.7" width="45" height="6.7"/>
<use href="#sR" x="360"/><use href="#sY" x="420"/>
<use href="#B" x="480"/><use href="#O" x="540"/>
<use href="#O" x="600"/><use href="#O" x="615"/><use href="#O" x="630"/><use href="#O" x="645"/><use href="#O" x="660"/><use href="#O" x="675"/><use href="#O" x="690"/><use href="#O" x="705"/>
<use href="#pA" x="720"/>
<rect class="sp" x="360" y="0" width="104.5" height="60.5"/>
<g class="lb">
<text class="a" x="240" y="76.7">0</text><text class="b" x="240" y="90">131137</text><text class="c" x="240" y="102.8">0.00%</text>
<text class="a" x="480" y="76.7">68</text><text class="b" x="480" y="90">131409</text><text class="c" x="480" y="102.8">30.10%</text>
<text class="a" x="720" y="76.7">268</text><text class="b" x="720" y="90">132481</text><text class="c" x="720" y="102.8">30.10%</text>
<text class="a" x="960" y="76.7">171</text><text class="b" x="960" y="90">133165</text><text class="c" x="960" y="102.8">30.10%</text>
</g>
</g>

<g id="row25" transform="translate(31.3,3589.3)">
<use href="#S4"/>
<text class="n" x="0" y="-7.3">97</text><text class="n" x="240" y="-7.3">98</text><text class="n" x="480" y="-7.3">99</text><text class="n" x="720" y="-7.3">100</text>
<use href="#pB" x="0"/><use href="#pA" x="240"/><use href="#pB" x="480"/><use href="#pCs" x="720"/>
<g class="lb">
<text class="a" x="240" y="76.7">171</text><text class="b" x="240" y="90">133849</text><text class="c" x="240" y="102.8">30.10%</text>
<text class="a" x="480" y="76.7">171</text><text class="b" x="480" y="90">134533</text><text class="c" x="480" y="102.8">30.10%</text>
<text class="a" x="720" y="76.7">171</text><text class="b" x="720" y="90">135217</text><text class="c" x="720" y="102.8">30.10%</text>
<text class="a" x="960" y="76.7">171</text><text class="b" x="960" y="90">135901</text><text class="c" x="960" y="102.8">55.10%</text>
</g>
</g>

<g id="row26" transform="translate(31.3,3730.3)">
<use href="#S4"/>
<text class="n" x="0" y="-7.3">101</text><text class="n" x="240" y="-7.3">102</text><text class="n" x="480" y="-7.3">103</text><text class="n" x="720" y="-7.3">104</text>
<use href="#pB" x="0"/><use href="#pA" x="240"/><use href="#pB" x="480"/><use href="#pC" x="720"/>
<rect class="so" x="0" y="0" width="960" height="60.5"/>
<rect class="rb" x="0" y="0" width="1.5" height="60.5"/>
<g class="lb">
<text class="a" x="240" y="76.7">171</text><text class="b" x="240" y="90">137269</text><text class="c" x="240" y="102.8">42.60%</text>
<text class="a" x="480" y="76.7">171</text><text class="b" x="480" y="90">138637</text><text class="c" x="480" y="102.8">30.10%</text>
<text class="a" x="720" y="76.7">171</text><text class="b" x="720" y="90">140005</text><text class="c" x="720" y="102.8">17.60%</text>
<text class="a" x="960" y="76.7">171</text><text class="b" x="960" y="90">141373</text><text class="c" x="960" y="102.8">5.10%</text>
</g>
</g>

<g id="row27" transform="translate(31.3,3871.3)">
<use href="#S4"/>
<text class="n" x="0" y="-7.3">105</text><text class="n" x="240" y="-7.3">106</text><text class="n" x="480" y="-7.3">107</text><text class="n" x="720" y="-7.3">108</text>
<use href="#pA" x="0"/><use href="#pB" x="240"/><use href="#pC" x="480"/><use href="#pA" x="720"/>
<rect class="so" x="0" y="0" width="688" height="60.5"/>
<g class="lb">
<text class="a" x="240" y="76.7">171</text><text class="b" x="240" y="90">142741</text><text class="c" x="240" y="102.8">0.00%</text>
<text class="a" x="480" y="76.7">171</text><text class="b" x="480" y="90">144109</text><text class="c" x="480" y="102.8">0.00%</text>
<text class="a" x="720" y="76.7">171</text><text class="b" x="720" y="90">145477</text><text class="c" x="720" y="102.8">0.00%</text>
<text class="a" x="960" y="76.7">171</text><text class="b" x="960" y="90">146161</text><text class="c" x="960" y="102.8">0.00%</text>
</g>
</g>

<g id="row28" transform="translate(31.3,4012.3)">
<use href="#S3"/>
<text class="n" x="0" y="-7.3">109</text><text class="n" x="240" y="-7.3">110</text><text class="n" x="480" y="-7.3">111</text>
<use href="#pB" x="0"/><use href="#pC" x="240"/><use href="#pA" x="480"/>
<g class="lb">
<text class="a" x="240" y="76.7">171</text><text class="b" x="240" y="90">146845</text><text class="c" x="240" y="102.8">0.00%</text>
<text class="a" x="480" y="76.7">171</text><text class="b" x="480" y="90">147529</text><text class="c" x="480" y="102.8">0.00%</text>
<text class="a" x="720" y="76.7">171</text><text class="b" x="720" y="90">148213</text><text class="c" x="720" y="102.8">0.00%</text>
</g>
</g>
</g>
</svg>
